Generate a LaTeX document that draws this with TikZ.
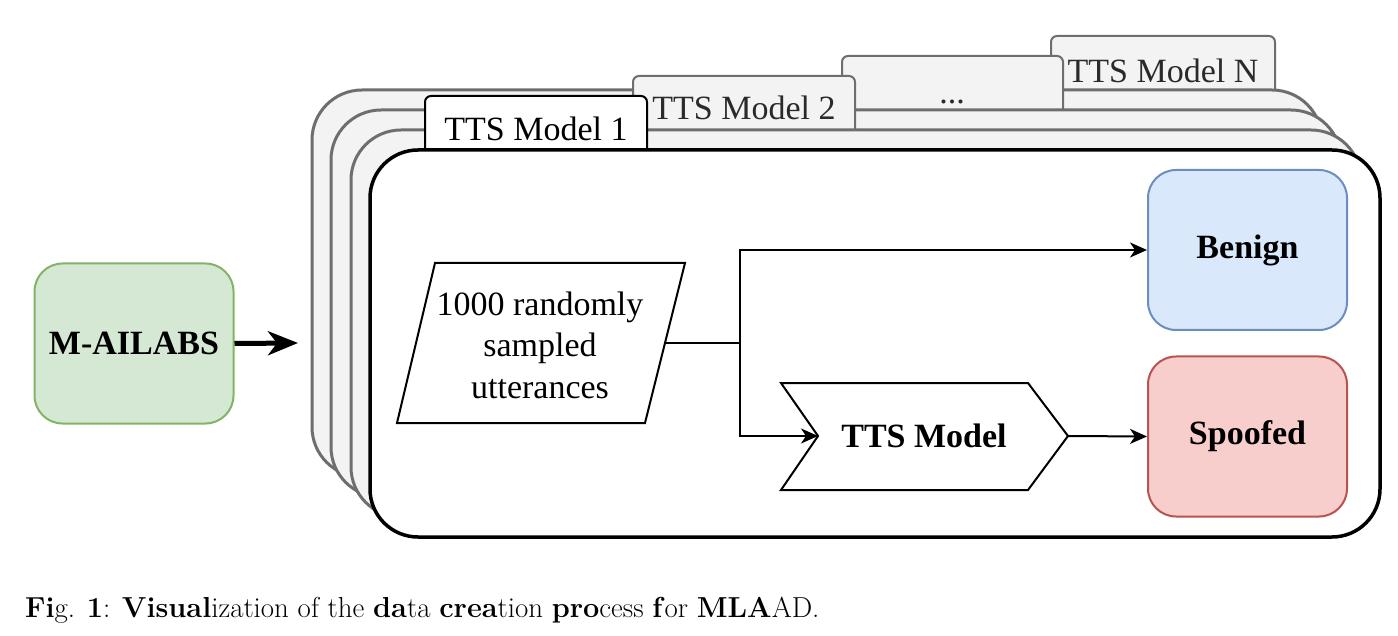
\documentclass[tikz,border=0pt]{standalone}
\usepackage{fontspec}
\newfontfamily\tnr{Liberation Serif}
\usetikzlibrary{arrows.meta}
\definecolor{frameGray}{HTML}{6E6E6E}
\definecolor{frameFill}{HTML}{F3F3F3}
\definecolor{tabText}{HTML}{2A2A2A}
\definecolor{gFill}{HTML}{D5E8D4}
\definecolor{gLine}{HTML}{82B366}
\definecolor{bFill}{HTML}{DAE8FC}
\definecolor{bLine}{HTML}{6C8EBF}
\definecolor{rFill}{HTML}{F8CECC}
\definecolor{rLine}{HTML}{B85450}
\begin{document}
\begin{tikzpicture}[x=1pt,y=-1pt,
  grayframe/.style={draw=frameGray, fill=frameFill, line width=3pt, rounded corners=50pt},
  frontframe/.style={draw=black, fill=white, line width=3.5pt, rounded corners=48pt},
  graytab/.style={draw=frameGray, fill=frameFill, line width=2pt, rounded corners=6pt},
  fronttab/.style={draw=black, fill=white, line width=2pt, rounded corners=6pt},
  tabtext/.style={anchor=base, font=\tnr\fontsize{34}{40}\selectfont, text=tabText, inner sep=0pt},
  procbox/.style={rounded corners=28pt, line width=2pt, minimum width=199pt, minimum height=160pt, inner sep=0pt, font=\tnr\bfseries\fontsize{34}{40}\selectfont},
  shapeline/.style={draw=black, line width=2pt, fill=white, line join=miter},
  conn/.style={line width=2pt, -{Stealth[length=17pt,width=15pt,inset=5pt]}},
  plain/.style={line width=2pt},
]
\fill[white] (0,0) rectangle (1398,636);
\useasboundingbox (0,0) rectangle (1398,636);

% stacked frames with tabs (back to front)
\draw[graytab] (1051,36) rectangle (1275,100);
\draw[grayframe] (312,90) rectangle (1322,477);
\node[tabtext] (tN) at (1163,83) {TTS Model N};

\draw[graytab] (842,56) rectangle (1063,120);
\draw[grayframe] (331,110) rectangle (1341,497);
\node[tabtext] (tD) at (952,104) {...};

\draw[graytab] (633,76) rectangle (855,140);
\draw[grayframe] (351,130) rectangle (1361,517);
\node[tabtext] (t2) at (744,120) {TTS Model 2};

\draw[fronttab] (425,96) rectangle (647,160);
\draw[frontframe] (370,150) rectangle (1380,537);
\node[tabtext, text=black] (t1) at (536,141) {TTS Model 1};

% source
\node[procbox, draw=gLine, fill=gFill] (src) at (134,343.5) {M-AILABS};
\coordinate (stackIn) at (298,343);
\draw[line width=5pt, -{Stealth[length=30pt,width=24pt,inset=9pt]}] (src.east) -- (stackIn);

% parallelogram data node
\draw[shapeline] (435,263) -- (685,263) -- (645,423) -- (397,423) -- cycle;
\node[font=\tnr\fontsize{34}{41.5}\selectfont, align=center, inner sep=0pt] (data) at (540,345) {1000 randomly\\sampled\\utterances};
\coordinate (dataR) at (665,343);
\coordinate (j) at (740,343);

% TTS model chevron
\draw[shapeline] (781,383) -- (1028,383) -- (1068,436) -- (1028,490) -- (781,490) -- (818,436) -- cycle;
\node[font=\tnr\bfseries\fontsize{34}{40}\selectfont, inner sep=0pt] (tts) at (924,436) {TTS Model};
\coordinate (ttsIn) at (818,436);
\coordinate (ttsOut) at (1068,436);

% outputs
\node[procbox, draw=bLine, fill=bFill] (benign) at (1247.5,250) {Benign};
\node[procbox, draw=rLine, fill=rFill] (spoof) at (1247.5,436.5) {Spoofed};

% connectors
\draw[plain] (dataR) -- (j);
\draw[conn] (j) |- (benign.west);
\draw[conn] (j) |- (ttsIn);
\draw[conn] (ttsOut) -- (spoof.west);

% caption
\node[anchor=base west, inner sep=0pt, font=\fontsize{28.9}{34}\selectfont] (cap) at (25,617)
  {\textbf{Fi}g. \textbf{1}: \textbf{Visual}ization of the \textbf{da}ta \textbf{crea}tion \textbf{pro}cess \textbf{f}or \textbf{MLA}AD.};
\end{tikzpicture}
\end{document}
